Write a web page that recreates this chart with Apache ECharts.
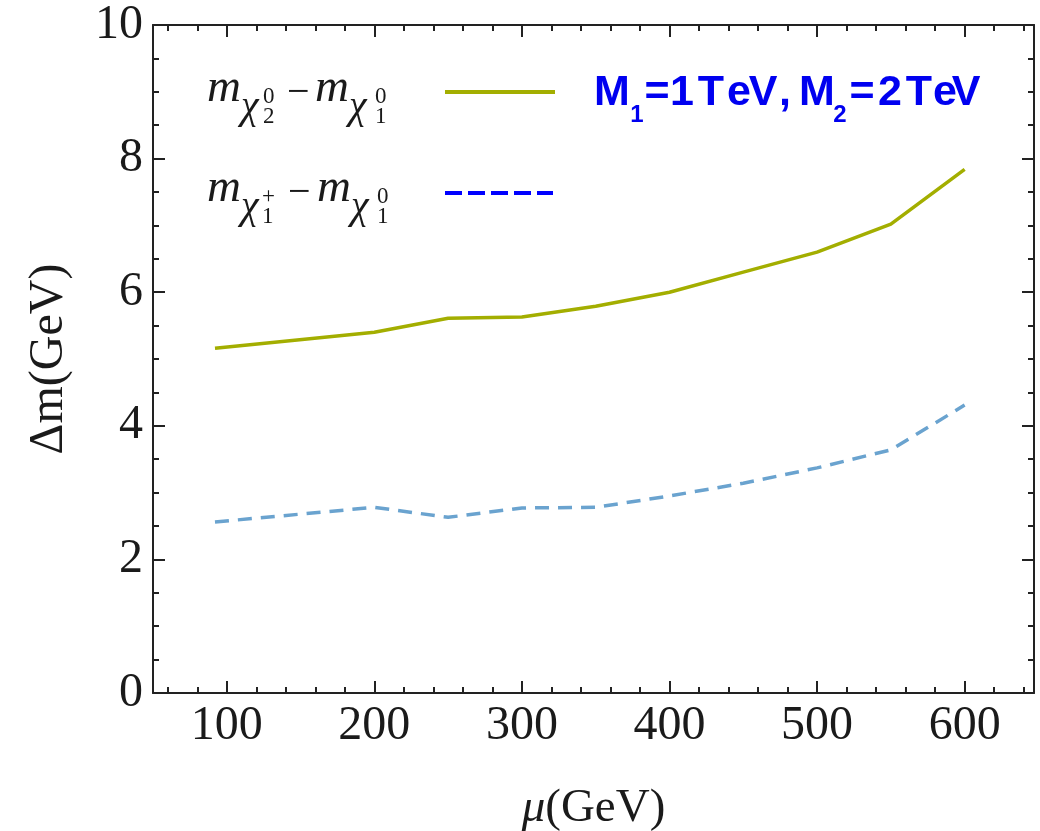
<!DOCTYPE html>
<html>
<head>
<meta charset="utf-8">
<script src="https://cdn.jsdelivr.net/npm/echarts@6/dist/echarts.min.js"></script>
<style>
html,body{margin:0;padding:0;background:#fff;}
#chart{width:1040px;height:831px;}
</style>
</head>
<body>
<div id="chart"></div>
<script>
// ---- data ----
var muValues = [92, 200, 250, 300, 350, 400, 450, 500, 550, 600];
var dmNeutralino = [5.16, 5.40, 5.61, 5.63, 5.79, 6.00, 6.30, 6.60, 7.02, 7.84];
var dmChargino = [2.56, 2.78, 2.63, 2.77, 2.78, 2.95, 3.14, 3.37, 3.64, 4.31];
var xMajorTicks = [100, 200, 300, 400, 500, 600];
var xMinorTicks = [60, 80, 120, 140, 160, 180, 220, 240, 260, 280, 320, 340, 360, 380, 420, 440, 460, 480, 520, 540, 560, 580, 620, 640];
var yTicks = [0, 2, 4, 6, 8, 10];

var X_MIN = 50, X_MAX = 647;
var axisColor = '#222';
var greenColor = '#a3ae00';
var blueLine = '#6aa3cf';
var serif = '"Liberation Serif", "DejaVu Serif", serif';

function pairs(xs, ys) { return xs.map(function (x, i) { return [x, ys[i]]; }); }

function xAxisDef(pos, ticks, len, showLabel, showLine) {
  return {
    type: 'value', position: pos, min: X_MIN, max: X_MAX,
    axisLine: { show: showLine, onZero: false, lineStyle: { color: axisColor, width: 2 } },
    axisTick: { show: true, inside: true, length: len, customValues: ticks, lineStyle: { color: axisColor, width: 2 } },
    axisLabel: { show: showLabel, customValues: ticks, color: '#1a1a1a', fontFamily: serif, fontSize: 48, margin: 9 },
    splitLine: { show: false }
  };
}
function yAxisDef(pos, showLabel) {
  return {
    type: 'value', position: pos, min: 0, max: 10, interval: 2,
    axisLine: { show: true, onZero: false, lineStyle: { color: axisColor, width: 2 } },
    axisTick: { show: true, inside: true, length: 12, lineStyle: { color: axisColor, width: 2 } },
    minorTick: { show: true, splitNumber: 4, length: 6, lineStyle: { color: axisColor, width: 2 } },
    axisLabel: { show: showLabel, color: '#1a1a1a', fontFamily: serif, fontSize: 48, margin: 10 },
    splitLine: { show: false }
  };
}

var xAxes = [
  xAxisDef('bottom', xMajorTicks, 12, true, true),
  xAxisDef('bottom', xMinorTicks, 6, false, false),
  xAxisDef('top', xMajorTicks, 12, false, true),
  xAxisDef('top', xMinorTicks, 6, false, false)
];
xAxes[0].name = '{i|μ}(GeV)';
xAxes[0].nameLocation = 'middle';
xAxes[0].nameGap = 92;
xAxes[0].nameTextStyle = { fontFamily: serif, fontSize: 47, color: '#1a1a1a', rich: { i: { fontFamily: serif, fontStyle: 'italic', fontSize: 47, color: '#1a1a1a' } } };

var yAxes = [yAxisDef('left', true), yAxisDef('right', false)];
yAxes[0].name = 'Δm(GeV)';
yAxes[0].nameLocation = 'middle';
yAxes[0].nameGap = 80;
yAxes[0].nameTextStyle = { fontFamily: serif, fontSize: 48, color: '#1a1a1a' };

// text fragment placed by its baseline (top alignment, offset by font ascent)
function t(x, base, text, size, italic) {
  return {
    type: 'text', x: x, y: base - Math.round(size * 0.80), silent: true,
    style: {
      text: text, fill: '#1a1a1a',
      font: (italic ? 'italic ' : '') + size + 'px ' + serif,
      align: 'left', verticalAlign: 'top'
    }
  };
}
// [mX, chiX, supX, minusX, m2X, chi2X, sup2X]
function legendRow(b, xs, supA, subA) {
  return [
    t(xs[0], b, 'm', 47, true),
    t(xs[1], b + 16, 'χ', 40, true),
    t(xs[2], b, supA, 23, false),
    t(xs[2], b + 20, subA, 23, false),
    t(xs[3], b + 2, '−', 40, false),
    t(xs[4], b, 'm', 47, true),
    t(xs[5], b + 16, 'χ', 40, true),
    t(xs[6], b, '0', 23, false),
    t(xs[6], b + 20, '1', 23, false)
  ];
}
var sansB = '"Liberation Sans", Arial, sans-serif';
function s(cx, base, text, size) {
  return {
    type: 'text', x: cx, y: base - Math.round(size * 0.83), silent: true,
    style: { text: text, fill: '#0000f0', font: 'bold ' + size + 'px ' + sansB, align: 'center', verticalAlign: 'top' }
  };
}
var titleChars = [
  [612, 'M', 43], [637, '1', 24], [657, '=', 43], [682, '1', 43], [711, 'T', 43], [739, 'e', 43], [763, 'V', 43], [785, ',', 43],
  [817, 'M', 43], [840, '2', 24], [862, '=', 43], [890, '2', 43], [919, 'T', 43], [945, 'e', 43], [966, 'V', 43]
];
var titleGraphics = titleChars.map(function (c) {
  return s(c[0], c[2] < 30 ? 123 : 108, c[1], c[2]);
});

var graphics = []
  .concat(legendRow(103, [207, 241, 263, 287, 315, 349, 375], '0', '2'))
  .concat(legendRow(203, [207, 241, 262, 288, 317, 351, 377], '+', '1'))
  .concat([
    { type: 'line', silent: true, shape: { x1: 445, y1: 92, x2: 555, y2: 92 }, style: { stroke: greenColor, lineWidth: 4 } },
    { type: 'line', silent: true, shape: { x1: 445, y1: 193, x2: 553, y2: 193 }, style: { stroke: '#0000ff', lineWidth: 4, lineDash: [17, 6] } }
  ])
  .concat(titleGraphics);

var chart = echarts.init(document.getElementById('chart'), null, { renderer: 'canvas' });
chart.setOption({
  animation: false,
  backgroundColor: '#fff',
  grid: { left: 153, right: 6, top: 25, bottom: 138, containLabel: false, outerBoundsMode: 'none' },
  xAxis: xAxes,
  yAxis: yAxes,
  series: [
    { type: 'line', xAxisIndex: 0, yAxisIndex: 0, data: pairs(muValues, dmNeutralino), showSymbol: false,
      lineStyle: { color: greenColor, width: 3.5 } },
    { type: 'line', xAxisIndex: 0, yAxisIndex: 0, data: pairs(muValues, dmChargino), showSymbol: false,
      lineStyle: { color: blueLine, width: 3.5, type: [14, 9] } }
  ],
  graphic: graphics
});
</script>
</body>
</html>
